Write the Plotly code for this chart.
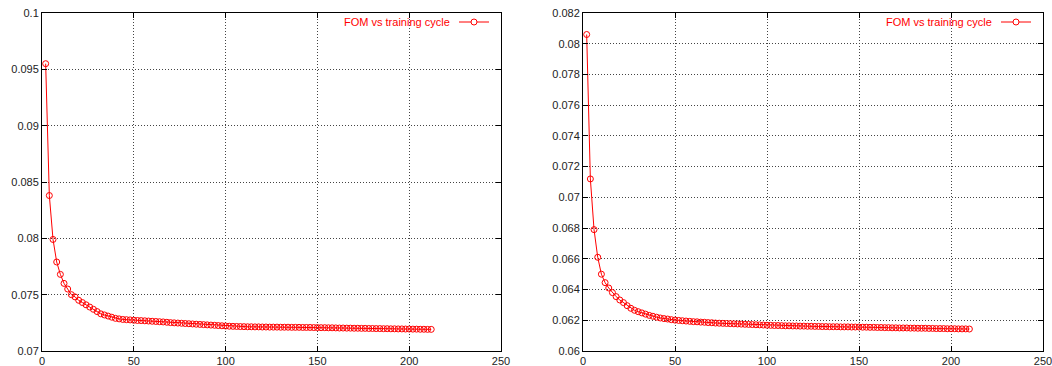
import plotly.graph_objects as go

# FOM per training cycle, two training runs (cycles sampled every 2)
fom_run_a = [
    0.0955, 0.0838, 0.0799, 0.0779, 0.0768, 0.0760, 0.0755, 0.0750, 0.0748, 0.0745,
    0.0743, 0.0741, 0.0739, 0.0737, 0.0735, 0.0733, 0.0732, 0.0731, 0.0730, 0.0729,
    0.07285, 0.0728, 0.07278, 0.07276, 0.07273, 0.07271, 0.0727, 0.07268, 0.07266, 0.07264,
    0.07262, 0.0726, 0.07258, 0.07255, 0.07252, 0.0725, 0.07248, 0.07246, 0.07244, 0.07242,
    0.0724, 0.07238, 0.07236, 0.07234, 0.07232, 0.0723, 0.07228, 0.07226, 0.07224, 0.07222,
    0.0722, 0.07219, 0.07218, 0.07217, 0.07216, 0.07215, 0.07215, 0.07214, 0.07214, 0.07213,
    0.07213, 0.07212, 0.07212, 0.07212, 0.07211, 0.07211, 0.07211, 0.0721, 0.0721, 0.0721,
    0.07209, 0.07209, 0.07209, 0.07208, 0.07208, 0.07207, 0.07207, 0.07206, 0.07206, 0.07205,
    0.07204, 0.07204, 0.07203, 0.07203, 0.07202, 0.07202, 0.07201, 0.07201, 0.072, 0.072,
    0.07199, 0.07199, 0.07198, 0.07198, 0.07197, 0.07197, 0.07196, 0.07196, 0.07195, 0.07195,
    0.07194, 0.07194, 0.07193, 0.07193, 0.07192, 0.07192,
]
cycles_a = list(range(2, 2 * len(fom_run_a) + 1, 2))

fom_run_b = [
    0.0806, 0.0712, 0.0679, 0.0661, 0.0650, 0.06445, 0.0641, 0.0638, 0.06354, 0.06332,
    0.06315, 0.06295, 0.06278, 0.06265, 0.06256, 0.06248, 0.0624, 0.06232, 0.06226, 0.0622,
    0.06215, 0.06211, 0.06208, 0.06204, 0.06201, 0.06199, 0.06197, 0.06195, 0.06193, 0.06191,
    0.0619, 0.06188, 0.06187, 0.06185, 0.06184, 0.06182, 0.06181, 0.0618, 0.06179, 0.06178,
    0.06177, 0.06176, 0.06175, 0.06174, 0.06173, 0.06172, 0.06171, 0.0617, 0.06169, 0.06168,
    0.06167, 0.06166, 0.06166, 0.06165, 0.06164, 0.06164, 0.06163, 0.06163, 0.06162, 0.06162,
    0.06161, 0.06161, 0.0616, 0.0616, 0.06159, 0.06159, 0.06158, 0.06158, 0.06158, 0.06157,
    0.06157, 0.06157, 0.06156, 0.06156, 0.06156, 0.06155, 0.06155, 0.06154, 0.06154, 0.06153,
    0.06153, 0.06152, 0.06152, 0.06151, 0.06151, 0.0615, 0.0615, 0.0615, 0.06149, 0.06149,
    0.06148, 0.06148, 0.06148, 0.06147, 0.06147, 0.06146, 0.06146, 0.06146, 0.06145, 0.06145,
    0.06145, 0.06144, 0.06144, 0.06144, 0.06143,
]
cycles_b = list(range(2, 2 * len(fom_run_b) + 1, 2))

x_ticks = [0, 50, 100, 150, 200, 250]
y_ticks_a = [0.07, 0.075, 0.08, 0.085, 0.09, 0.095, 0.1]
y_ticks_a_text = ["0.07", "0.075", "0.08", "0.085", "0.09", "0.095", "0.1"]
y_ticks_b = [0.06, 0.062, 0.064, 0.066, 0.068, 0.07, 0.072, 0.074, 0.076, 0.078, 0.08, 0.082]
y_ticks_b_text = ["0.06", "0.062", "0.064", "0.066", "0.068", "0.07", "0.072",
                  "0.074", "0.076", "0.078", "0.08", "0.082"]
series_name = "FOM vs training cycle"

W, H = 1052, 366
RED = "#ff0000"
FONT = dict(family="Liberation Sans, Arial, sans-serif", size=11, color="#222222")

fig = go.Figure()
for xs, ys, xa, ya in [(cycles_a, fom_run_a, "x", "y"), (cycles_b, fom_run_b, "x2", "y2")]:
    fig.add_trace(go.Scatter(
        x=xs, y=ys, xaxis=xa, yaxis=ya, mode="lines+markers", name=series_name,
        line=dict(color=RED, width=1),
        marker=dict(symbol="circle-open", size=6, color=RED, line=dict(width=1, color=RED)),
        showlegend=False,
    ))

axis_common = dict(
    showline=True, linecolor="black", linewidth=1, mirror="ticks",
    ticks="inside", ticklen=5, tickcolor="black", tickwidth=1,
    showgrid=True, gridcolor="#444444", gridwidth=1, griddash="1px,2px",
    zeroline=False, tickfont=FONT, automargin=False, ticklabeloverflow="allow",
)

# plot areas in pixels (left, right, top, bottom)
areas = [(42, 501, 13, 351), (583, 1043, 13, 351)]

def dom_x(a):
    return [a[0] / W, a[1] / W]

def dom_y(a):
    return [(H - a[3]) / H, (H - a[2]) / H]

fig.update_layout(
    width=W, height=H,
    margin=dict(l=0, r=0, t=0, b=0),
    paper_bgcolor="white", plot_bgcolor="white",
    font=FONT,
    xaxis=dict(domain=dom_x(areas[0]), range=[0, 250], tickvals=x_ticks, anchor="y", **axis_common),
    yaxis=dict(domain=dom_y(areas[0]), range=[0.07, 0.1], tickvals=y_ticks_a,
               ticktext=y_ticks_a_text, anchor="x", **axis_common),
    xaxis2=dict(domain=dom_x(areas[1]), range=[0, 250], tickvals=x_ticks, anchor="y2", **axis_common),
    yaxis2=dict(domain=dom_y(areas[1]), range=[0.06, 0.082], tickvals=y_ticks_b,
                ticktext=y_ticks_b_text, anchor="x2", **axis_common),
)

# key entries (text on the left, sample line with a point on the right)
for (l, r, t, b) in areas:
    text_right = r - 49
    key_y = t + 9
    fig.add_annotation(
        xref="paper", yref="paper", x=text_right / W, y=(H - key_y) / H,
        xanchor="right", yanchor="middle", showarrow=False,
        text=series_name, font=dict(family=FONT["family"], size=11, color=RED),
    )
    fig.add_shape(type="line", xref="paper", yref="paper",
                  x0=(text_right + 7) / W, x1=(text_right + 37) / W,
                  y0=(H - key_y) / H, y1=(H - key_y) / H,
                  line=dict(color=RED, width=1))
    cx = text_right + 22
    fig.add_shape(type="circle", xref="paper", yref="paper",
                  x0=(cx - 3) / W, x1=(cx + 3) / W,
                  y0=(H - key_y - 3) / H, y1=(H - key_y + 3) / H,
                  line=dict(color=RED, width=1), fillcolor="white")

fig.write_html("out.html")
